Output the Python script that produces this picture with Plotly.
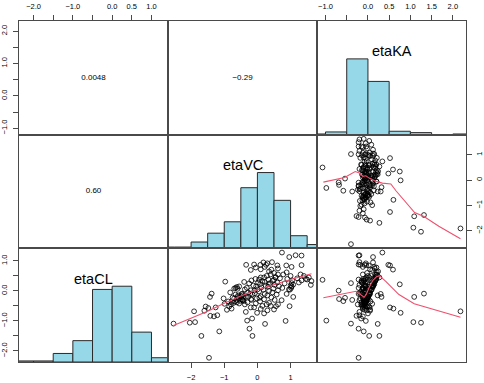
import plotly.graph_objects as go

# ---------------- data (one entry per subject) ----------------
etaCL = [
    -1.09, -0.68, -1.04, -1.06, -0.20, -0.09, -1.50, -2.23, 0.37, -0.99,
    -0.59, 0.71, -0.55, 0.22, -0.73, 0.87, 0.85, 1.28, -1.10, -1.00,
    -1.35, -0.92, -1.26, -1.50, -0.66, -0.52, -0.57, -0.83, -0.85, -0.81,
    0.01, -0.27, -0.34, -0.23, 0.26, -0.30, -0.45, -0.10, -0.15, -0.20,
    0.45, -0.10,
    -0.40, -0.35, -0.30, -0.25, -0.20, -0.42, -0.33, -0.18, -0.28, -0.12,
    -0.15, -0.38, -0.22, -0.45, -0.10, -0.31, -0.24, -0.36,
    0.31, -0.63, -0.43, -0.25, -0.52, -0.35, 0.10, 0.13, 0.08, -0.05, 0.07, 0.15,
    -0.38, -0.20, -0.05, 0.10, 0.25, -0.30, -0.12, 0.02, 0.18, 0.35,
    -0.42, -0.25, -0.08, 0.05, 0.15, 0.28, 0.40, -0.35, -0.18, -0.02,
    0.12, 0.22, 0.33, 0.45, -0.28, -0.10, 0.04, 0.18, 0.30, 0.50,
    -0.15, 0.00, 0.14, 0.26, 0.38, 0.55, -0.22, -0.05, 0.08, 0.20,
    0.34, 0.46, 0.60, -0.30, -0.12, 0.02, 0.16, 0.28, 0.42, 0.55,
    -0.40, -0.50, -0.55, -0.20, 0.30, 0.45, 0.65, 0.05, -0.45, 0.38,
    -0.31, -0.51, 0.10, 0.25, 0.40, 0.55, -0.10, 0.05, 0.18, 0.35, 0.50, -0.20, 0.10, 0.62, -0.45,
    0.35, 0.40, 0.45, 0.33, 0.20, 0.50, 0.28, 0.55, 0.42, 0.38,
    0.87, 0.88, 0.87, 0.95, 0.80, 0.96, 0.85, 0.75, 0.78, 0.92, 0.72, 0.70,
    1.13, 1.19, 1.18, 0.86, 0.80,
    -0.62, -0.51, -0.60, -0.70, -0.55, -0.65, -0.50, -0.75,
    0.15, 0.21, 0.04,
]
etaVC = [
    -2.53, -1.91, -1.88, -2.04, -1.43, -1.38, -1.69, -1.46, 0.50, -0.31,
    -0.78, 0.42, -1.26, 0.34, -0.01, 0.26, 0.87, 0.74, 0.23, 0.85,
    -1.15, -0.16, -0.24, -0.15, -1.60, -1.56, -1.48, -1.42, -1.31, -1.21,
    -0.09, -0.19, -0.42, 0.06, 1.03, -0.45, -0.38, -0.22, -0.45, -0.28,
    0.54, -0.45,
    -0.72, -0.68, -0.62, -0.70, -0.60, -0.55, -0.52, -0.50, -0.47, -0.66,
    -0.58, -0.62, -0.75, -0.80, -0.48, -0.44, -0.55, -0.78,
    -0.97, -0.92, -0.99, -1.02, -0.85, -0.88, -0.66, -0.62, -0.70, -0.82, -0.60, -0.55,
    -0.30, -0.35, -0.28, -0.32, -0.25, -0.18, -0.15, -0.20, -0.12, -0.18,
    -0.05, -0.02, -0.08, 0.00, -0.04, 0.02, -0.06, 0.08, 0.10, 0.05,
    0.12, 0.08, 0.15, 0.10, 0.20, 0.22, 0.18, 0.25, 0.22, 0.28,
    0.30, 0.35, 0.32, 0.38, 0.33, 0.40, 0.42, 0.45, 0.48, 0.52,
    0.46, 0.55, 0.50, 0.52, 0.58, 0.62, 0.65, 0.60, 0.68, 0.62,
    0.35, 0.15, -0.10, -0.42, -0.40, 0.20, 0.35, -0.38, 0.28, 0.05,
    0.73, 0.97, 0.75, 0.82, 0.90, 0.78, 0.88, 0.95, 1.00, 1.05, 1.00, 1.08, 1.02, 0.88, 0.62,
    1.33, 1.46, 1.55, 1.63, 1.61, 1.40, 1.25, 1.30, 1.20, 1.50,
    -0.34, -0.10, 0.09, 0.18, 0.22, 0.44, 0.60, 0.62, -0.05, 0.30, 0.10, -0.20,
    0.96, 1.15, 1.33, 1.33, 1.03,
    0.50, 0.56, 0.10, -0.35, -0.20, 0.30, 0.40, 0.20,
    1.03, 1.08, 0.98,
]
etaKA = [
    -0.40, 2.18, 1.07, 1.25, 1.09, 1.32, 0.27, -0.22, -1.07, -0.98,
    0.60, 0.59, 0.52, 0.75, 0.77, 0.48, 0.52, 0.34, 0.23, -0.05,
    -0.10, -0.16, -0.22, 0.03, 0.05, -0.03, -0.07, -0.27, -0.12, -0.20,
    -0.69, -0.68, -0.58, -0.54, -0.40, -0.37, -0.24, -0.22, 0.23, 0.32,
    0.27, 0.30,
    -0.10, -0.05, -0.02, -0.12, 0.00, -0.07, -0.04, -0.11, 0.02, 0.03,
    -0.06, -0.15, -0.09, -0.13, 0.05, -0.20, -0.01, -0.08,
    -0.15, -0.08, 0.10, -0.18, -0.02, 0.06, -0.12, 0.01, -0.05, -0.19, -0.10, 0.08,
    -0.06, 0.00, 0.05, -0.12, 0.14, -0.03, -0.10, 0.07, 0.12, -0.09,
    -0.08, -0.02, -0.13, 0.09, 0.11, -0.07, 0.20, -0.05, 0.01, -0.06,
    0.10, 0.15, 0.17, -0.04, -0.03, -0.14, 0.08, -0.05, 0.16, 0.22,
    0.02, -0.09, 0.12, -0.12, 0.19, 0.21, -0.01, 0.04, -0.11, 0.13,
    0.17, 0.18, -0.02, -0.10, 0.03, -0.06, 0.11, -0.15, 0.15, 0.20,
    -0.06, -0.10, -0.12, 0.00, 0.14, 0.19, 0.24, -0.02, -0.08, -0.01,
    -0.08, 0.02, -0.03, 0.09, -0.10, 0.17, -0.18, 0.05, -0.07, 0.12, 0.00, -0.12, -0.22, 0.21, -0.16,
    -0.15, -0.05, 0.03, -0.10, -0.20, 0.08, -0.02, -0.12, 0.12, -0.22,
    -0.18, -0.22, -0.08, 0.12, -0.12, -0.20, 0.02, 0.16, 0.20, -0.05, 0.05, 0.10,
    0.12, -0.20, -0.22, -0.04, 0.15,
    0.05, -0.06, -0.12, -0.20, 0.04, -0.03, -0.14, 0.00,
    -0.06, 0.04, -0.14,
]

# histogram counts (hist() breaks of width 0.5)
cl_breaks = [-2.5, -2.0, -1.5, -1.0, -0.5, 0.0, 0.5, 1.0, 1.5]
cl_counts = [1, 1, 8, 20, 68, 71, 28, 4]
vc_breaks = [-3.0, -2.5, -2.0, -1.5, -1.0, -0.5, 0.0, 0.5, 1.0, 1.5, 2.0]
vc_counts = [1, 1, 5, 12, 21, 48, 60, 38, 10, 3]
ka_breaks = [-1.5, -1.0, -0.5, 0.0, 0.5, 1.0, 1.5, 2.0, 2.5]
ka_counts = [1, 4, 111, 78, 5, 3, 0, 1]

# lowess smooths
low_vc_cl_x = [-2.53, -1.5, -1.0, -0.5, 0.0, 0.5, 1.0, 1.63]
low_vc_cl_y = [-1.15, -0.68, -0.41, -0.17, 0.04, 0.22, 0.38, 0.57]
low_ka_vc_x = [-1.05, -0.55, -0.30, -0.20, -0.12, -0.05, 0.03, 0.19, 0.34, 0.54, 0.66, 0.85, 1.10, 1.32, 1.67, 2.18]
low_ka_vc_y = [-0.08, 0.10, 0.34, 0.28, 0.15, 0.17, 0.08, -0.05, -0.12, -0.15, -0.42, -0.80, -1.28, -1.44, -1.82, -2.32]
low_ka_cl_x = [-1.05, -0.28, -0.09, -0.04, 0.03, 0.11, 0.20, 0.27, 0.42, 0.73, 1.09, 2.18]
low_ka_cl_y = [-0.23, -0.01, -0.21, -0.12, 0.12, 0.34, 0.47, 0.51, 0.32, -0.12, -0.43, -0.88]

# correlation labels (upper panels)
corr_ka_cl = "0.0048"
corr_ka_vc = "\u22120.29"
corr_vc_cl = "0.60"

# ---------------- figure ----------------
data = {"etaCL": etaCL, "etaVC": etaVC, "etaKA": etaKA}
hists = {"etaCL": (cl_breaks, cl_counts), "etaVC": (vc_breaks, vc_counts),
         "etaKA": (ka_breaks, ka_counts)}
smooths = {("etaVC", "etaCL"): (low_vc_cl_x, low_vc_cl_y),
           ("etaKA", "etaVC"): (low_ka_vc_x, low_ka_vc_y),
           ("etaKA", "etaCL"): (low_ka_cl_x, low_ka_cl_y)}
corrs = {("etaCL", "etaKA"): corr_ka_cl, ("etaVC", "etaKA"): corr_ka_vc,
         ("etaCL", "etaVC"): corr_vc_cl}
cols = ["etaCL", "etaVC", "etaKA"]   # left -> right
rows = ["etaKA", "etaVC", "etaCL"]   # top -> bottom


def ext(v):
    lo, hi = min(v), max(v)
    d = 0.04 * (hi - lo)
    return [lo - d, hi + d]


FONT = "Liberation Sans, Arial, Helvetica, sans-serif"
LINE = "#4a4a4a"
TICKFONT = dict(family=FONT, size=7.5, color="black")
FILL = "rgb(151,216,232)"
SMOOTH = "#f0506e"


def ticks_for(var):
    if var == "etaCL":
        vals = [-2.0, -1.5, -1.0, -0.5, 0.0, 0.5, 1.0]
        txt = ["\u22122.0", "", "\u22121.0", "", "0.0", "0.5", "1.0"]
    elif var == "etaKA":
        vals = [-1.0, -0.5, 0.0, 0.5, 1.0, 1.5, 2.0]
        txt = ["\u22121.0", "", "0.0", "0.5", "1.0", "1.5", "2.0"]
    else:
        vals = [-2, -1, 0, 1]
        txt = ["\u22122", "\u22121", "0", "1"]
    return vals, txt


fig = go.Figure()
layout = dict(width=484, height=383, autosize=False,
              margin=dict(l=19, r=18, t=21, b=21, autoexpand=False),
              paper_bgcolor="white", plot_bgcolor="white",
              showlegend=False, annotations=[])

base_axis = dict(showgrid=False, zeroline=False, showline=True, mirror=True,
                 linecolor=LINE, linewidth=1, ticks="", showticklabels=False,
                 fixedrange=True, automargin=False)
tick_style = dict(ticks="outside", ticklen=5, tickwidth=1, tickcolor=LINE,
                  showticklabels=True, tickfont=TICKFONT, ticklabelstandoff=3)

for r, rv in enumerate(rows):
    for c, cv in enumerate(cols):
        k = r * 3 + c + 1
        xn = "x" if k == 1 else f"x{k}"
        yn = "y" if k == 1 else f"y{k}"
        xr = ext(data[cv])
        xa = dict(base_axis, domain=[c / 3, (c + 1) / 3], anchor=yn, range=xr)
        ya = dict(base_axis, domain=[1 - (r + 1) / 3, 1 - r / 3], anchor=xn)
        if r + c == 2:
            ya["range"] = [0, 1.5]
            br, cnt = hists[cv]
            m = max(cnt)
            fig.add_trace(go.Bar(
                x=[(br[i] + br[i + 1]) / 2 for i in range(len(cnt))],
                y=[n / m for n in cnt], width=0.5,
                marker=dict(color=FILL, line=dict(color="#2a2a2a", width=1)),
                xaxis=xn, yaxis=yn, hoverinfo="skip"))
            layout["annotations"].append(dict(
                text=cv, x=0.5, y=0.82, xref=f"{xn} domain", yref=f"{yn} domain",
                showarrow=False, font=dict(family=FONT, size=14.5, color="black")))
        elif r + c > 2:
            ya["range"] = ext(data[rv])
            fig.add_trace(go.Scatter(
                x=data[cv], y=data[rv], mode="markers", xaxis=xn, yaxis=yn,
                marker=dict(symbol="circle-open", size=4.8, color="black",
                            line=dict(width=0.8, color="black")),
                hoverinfo="skip"))
            sx, sy = smooths[(cv, rv)]
            fig.add_trace(go.Scatter(
                x=sx, y=sy, mode="lines", xaxis=xn, yaxis=yn,
                line=dict(color=SMOOTH, width=1.1), hoverinfo="skip"))
        else:
            yr = ext(data[rv])
            ya["range"] = yr
            fig.add_trace(go.Scatter(
                x=[(xr[0] + xr[1]) / 2], y=[(yr[0] + yr[1]) / 2], mode="text",
                text=[corrs[(cv, rv)]], textposition="middle center",
                textfont=dict(family=FONT, size=8, color="black"),
                xaxis=xn, yaxis=yn, hoverinfo="skip"))

        # outer axes as in pairs(): alternate sides
        if r == 0 and c in (0, 2):
            v, t = ticks_for(cv)
            xa.update(tick_style)
            xa.update(side="top", tickvals=v, ticktext=t, tickangle=0)
        if r == 2 and c == 1:
            v, t = ticks_for(cv)
            xa.update(tick_style)
            xa.update(side="bottom", tickvals=v, ticktext=t, tickangle=0)
        if r == 0 and c == 0:
            v = [-1.0, -0.5, 0.0, 0.5, 1.0, 1.5, 2.0]
            t = ["\u22121.0", "", "0.0", "", "1.0", "", "2.0"]
            ya.update(tick_style)
            ya.update(side="left", tickvals=v, ticktext=t, tickangle=-90)
        if r == 1 and c == 2:
            v, t = ticks_for(rv)
            ya.update(tick_style)
            ya.update(side="right", tickvals=v, ticktext=t, tickangle=-90,
                      ticklabelstandoff=1)

        layout["xaxis" if k == 1 else f"xaxis{k}"] = xa
        layout["yaxis" if k == 1 else f"yaxis{k}"] = ya

# left axis of the bottom row (etaCL scale) over the etaCL histogram panel
v = [-2.0, -1.5, -1.0, -0.5, 0.0, 0.5, 1.0]
t = ["\u22122.0", "", "\u22121.0", "", "0.0", "", "1.0"]
y10 = dict(base_axis)
y10.update(tick_style)
y10.update(overlaying="y7", anchor="x7", side="left", range=ext(etaCL),
           tickvals=v, ticktext=t, tickangle=-90, showline=False)
layout["yaxis10"] = y10
fig.add_trace(go.Scatter(x=[min(etaCL)], y=[min(etaCL)], mode="markers",
                         xaxis="x7", yaxis="y10", marker=dict(opacity=0),
                         hoverinfo="skip"))

fig.update_layout(**layout)
fig.write_html("out.html", config={"displayModeBar": False},
               post_script="document.body.style.margin='0';")
